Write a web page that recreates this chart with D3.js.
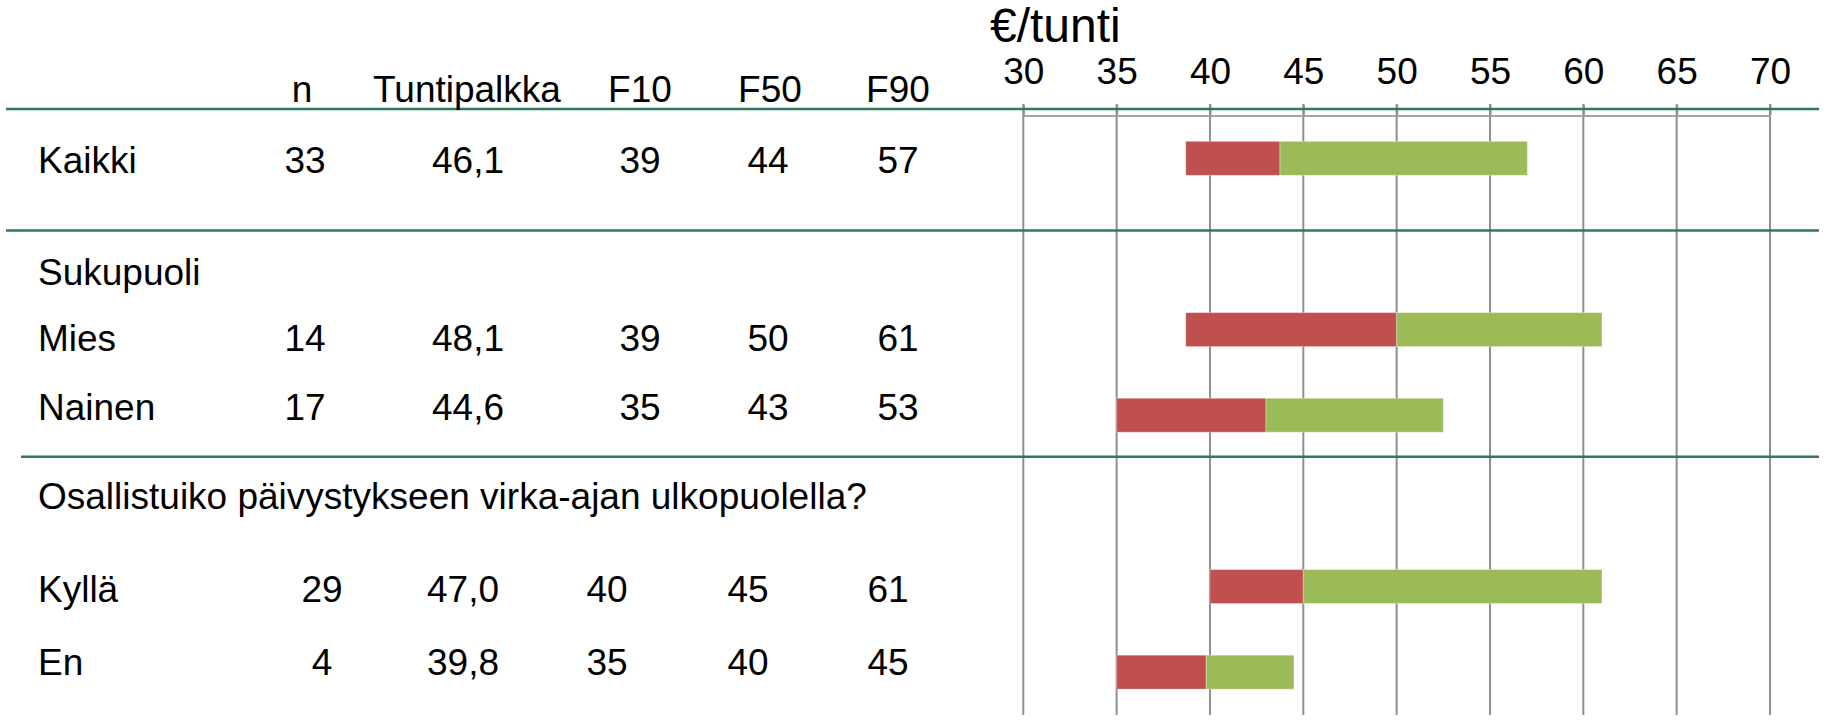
<!DOCTYPE html>
<html>
<head>
<meta charset="utf-8">
<script src="https://cdn.jsdelivr.net/npm/d3@7"></script>
<style>
  html, body { margin: 0; padding: 0; background: #ffffff; }
  svg { display: block; }
  text { font-family: "Liberation Sans", Arial, sans-serif; fill: #000; }
</style>
</head>
<body>
<div id="chart"></div>
<script>
// ---------------- data ----------------
const headers = ["n", "Tuntipalkka", "F10", "F50", "F90"];
const categories = ["Kaikki", "Mies", "Nainen", "Kyllä", "En"];
const groupTitles = ["Sukupuoli", "Osallistuiko päivystykseen virka-ajan ulkopuolella?"];
const nValues = [33, 14, 17, 29, 4];
const tuntipalkka = [46.1, 48.1, 44.6, 47.0, 39.8];
const f10 = [38.7, 38.7, 35.0, 40.0, 35.0];
const f50 = [43.75, 50.0, 43.0, 45.0, 39.8];
const f90 = [57.0, 61.0, 52.5, 61.0, 44.5];
const tickValues = [30, 35, 40, 45, 50, 55, 60, 65, 70];
const axisTitle = "€/tunti";

// ---------------- layout ----------------
const W = 1831, H = 724;
const svg = d3.select("#chart").append("svg").attr("width", W).attr("height", H);

const x = d3.scaleLinear().domain([30, 70]).range([1023.3, 1770]);
// band slots: Kaikki, (group header), Mies, Nainen, (group header), Kyllä, En
const slots = ["Kaikki", "_g1", "Mies", "Nainen", "_g2", "Kyllä", "En"];
const y = d3.scaleBand().domain(slots).range([115.5, 715]).paddingInner(0.603).paddingOuter(0.3015);

const RED = "#c0504d", GREEN = "#9bbb59", TEAL = "#2e7a60", GRID = "#8f8f8f";

const fi = d3.formatLocale({decimal: ",", thousands: " ", grouping: [3], currency: ["", "€"]});
const fmt1 = fi.format(".1f");
const fmt0 = fi.format(".0f");

// gridlines
svg.append("g").selectAll("line").data(tickValues).join("line")
  .attr("x1", d => x(d)).attr("x2", d => x(d))
  .attr("y1", 104).attr("y2", 715)
  .attr("stroke", GRID).attr("stroke-width", 2);

// top axis
const axisG = svg.append("g").attr("transform", "translate(0,115.5)")
  .call(d3.axisTop(x).tickValues(tickValues).tickSize(11).tickSizeOuter(0).tickPadding(21).tickFormat(d3.format("d")));
axisG.select(".domain").attr("stroke", "#a3a3a3").attr("stroke-width", 2);
axisG.selectAll(".tick line").attr("stroke", GRID).attr("stroke-width", 2);
axisG.selectAll(".tick text").attr("font-size", 37).attr("font-family", '"Liberation Sans", Arial, sans-serif').attr("fill", "#000");

svg.append("text").attr("x", 990).attr("y", 42).attr("font-size", 48).text(axisTitle);

// bars
const barData = categories.map((c, i) => ({c, lo: f10[i], mid: f50[i], hi: f90[i]}));
const bars = svg.append("g");
bars.selectAll("rect.low").data(barData).join("rect").attr("class", "low")
  .attr("x", d => x(d.lo)).attr("width", d => x(d.mid) - x(d.lo))
  .attr("y", d => y(d.c)).attr("height", y.bandwidth())
  .attr("fill", RED).attr("stroke", "rgba(255,255,255,0.35)").attr("stroke-width", 1);
bars.selectAll("rect.high").data(barData).join("rect").attr("class", "high")
  .attr("x", d => x(d.mid)).attr("width", d => x(d.hi) - x(d.mid))
  .attr("y", d => y(d.c)).attr("height", y.bandwidth())
  .attr("fill", GREEN).attr("stroke", "rgba(255,255,255,0.35)").attr("stroke-width", 1);

// separator lines
const seps = [{y: 109, x1: 6}, {y: 230.5, x1: 6}, {y: 456.7, x1: 21}];
svg.append("g").selectAll("line").data(seps).join("line")
  .attr("x1", d => d.x1).attr("x2", 1819).attr("y1", d => d.y).attr("y2", d => d.y)
  .attr("stroke", TEAL).attr("stroke-width", 2.5);

// table text
const FS = 37;
const colA = [305, 468, 640, 768, 898];
const colB = [322, 463, 607, 748, 888];
const headerX = [302, 467, 640, 770, 898];
const rowBase = [173, 351, 420, 602, 675];
const groupBase = [285, 509];

const tbl = svg.append("g").attr("font-size", FS);
tbl.selectAll("text.h").data(headers).join("text").attr("class", "h")
  .attr("x", (d, i) => headerX[i]).attr("y", 102).attr("text-anchor", "middle").text(d => d);

tbl.selectAll("text.g").data(groupTitles).join("text").attr("class", "g")
  .attr("x", 38).attr("y", (d, i) => groupBase[i]).text(d => d);

categories.forEach((c, i) => {
  const cols = i < 3 ? colA : colB;
  tbl.append("text").attr("x", 38).attr("y", rowBase[i]).text(c);
  const vals = [String(nValues[i]), fmt1(tuntipalkka[i]), fmt0(f10[i]), fmt0(f50[i]), fmt0(f90[i])];
  vals.forEach((v, j) => {
    tbl.append("text").attr("x", cols[j]).attr("y", rowBase[i]).attr("text-anchor", "middle").text(v);
  });
});
</script>
</body>
</html>
